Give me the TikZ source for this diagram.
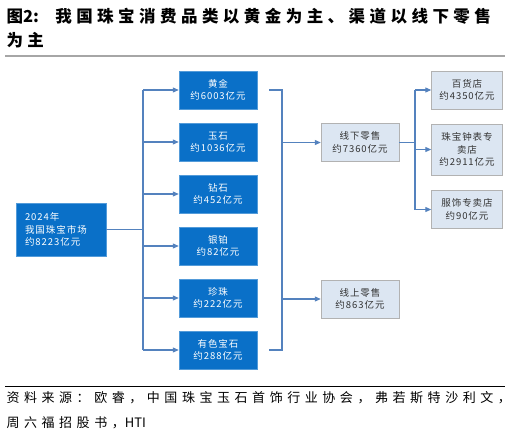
\documentclass[tikz,border=0pt]{standalone}
\usepackage{fontspec}
\setmainfont{Noto Sans CJK SC}
\newfontfamily\cjktitle[LetterSpace=27]{Noto Sans CJK SC}
\newfontfamily\cjkwide[LetterSpace=35]{Noto Sans CJK SC}
\newfontfamily\cjkbox[LetterSpace=10]{Noto Sans CJK SC}
\usepackage{xcolor}
\usetikzlibrary{arrows.meta}
\definecolor{boxblue}{RGB}{10,112,200}
\definecolor{boxgrey}{RGB}{220,230,242}
\definecolor{linkblue}{RGB}{84,130,190}

\begin{document}
\begin{tikzpicture}[x=1pt, y=-1pt,
  catbox/.style={draw=boxblue!70!white, fill=boxblue, text=white, font=\cjkbox\fontsize{9.5}{12.5}\selectfont,
    minimum width=78, minimum height=38, align=center, inner sep=1pt},
  chanbox/.style={draw=gray!60, fill=boxgrey, text=black!80, font=\cjkbox\fontsize{9.5}{12.5}\selectfont,
    minimum width=78, minimum height=38, align=center, inner sep=1pt},
  link/.style={draw=linkblue, line width=1.1pt},
  arr/.style={link, -{Triangle[length=6pt, width=5pt]}}]
\useasboundingbox (0,0) rectangle (510,436);

% title and rules
\node[anchor=north west, align=left, font=\cjktitle\bfseries\fontsize{16.5}{24}\selectfont] (title) at (3,5)
  {图{\rmfamily 2:}\ \ 我国珠宝消费品类以黄金为主、渠道以线下零售\\为主};
\draw[gray!70, line width=2.5pt] (5,56) -- (505,56);
\draw[black, line width=0.8pt] (5,386) -- (505,386);
\node[anchor=north west, align=left, font=\cjkwide\fontsize{13}{24.5}\selectfont] (src) at (3,388)
  {资料来源：欧睿，中国珠宝玉石首饰行业协会，弗若斯特沙利文，\\周六福招股书，{\rmfamily HTI}};

% market
\node[catbox, minimum width=90, minimum height=53, align=left, text width=72] (mkt) at (61,229.5)
  {2024年\\我国珠宝市场\\约8223亿元};

% categories
\node[catbox] (gold) at (218,90) {黄金\\约6003亿元};
\node[catbox] (jade) at (218,142) {玉石\\约1036亿元};
\node[catbox] (dia) at (218,194) {钻石\\约452亿元};
\node[catbox] (silv) at (218,246) {银铂\\约82亿元};
\node[catbox] (pearl) at (218,298) {珍珠\\约222亿元};
\node[catbox] (gem) at (218,350) {有色宝石\\约288亿元};

% channels
\node[chanbox] (off) at (360,142.5) {线下零售\\约7360亿元};
\node[chanbox] (on) at (360,299) {线上零售\\约863亿元};

% store types
\node[chanbox, minimum width=71] (dept) at (467,90) {百货店\\约4350亿元};
\node[chanbox, minimum width=71, minimum height=51] (watch) at (467,149.5) {珠宝钟表专\\卖店\\约2911亿元};
\node[chanbox, minimum width=71] (cloth) at (467,209.5) {服饰专卖店\\约90亿元};

% trunk to categories
\coordinate (trunk) at (143,229.5);
\coordinate (ttop) at (143,90);
\coordinate (tbot) at (143,350);
\draw[link] (mkt.east) -- (trunk);
\draw[link] (ttop) -- (tbot);
\foreach \b in {gold,jade,dia,silv,pearl,gem}
  \draw[arr] (trunk |- \b) -- (\b.west);

% bracket to channels
\coordinate (bra) at (269,90);
\coordinate (brb) at (282,90);
\coordinate (brc) at (282,350);
\coordinate (brd) at (269,350);
\draw[link] (bra) -- (brb) -- (brc) -- (brd);
\draw[arr] (brb |- off) -- (off.west);
\draw[arr] (brb |- on) -- (on.west);

% offline split
\coordinate (sp) at (415,142.5);
\coordinate (stop) at (415,90);
\coordinate (sbot) at (415,209.5);
\draw[link] (off.east) -- (sp);
\draw[link] (stop) -- (sbot);
\foreach \b in {dept,watch,cloth}
  \draw[arr] (sp |- \b) -- (\b.west);
\end{tikzpicture}
\end{document}
